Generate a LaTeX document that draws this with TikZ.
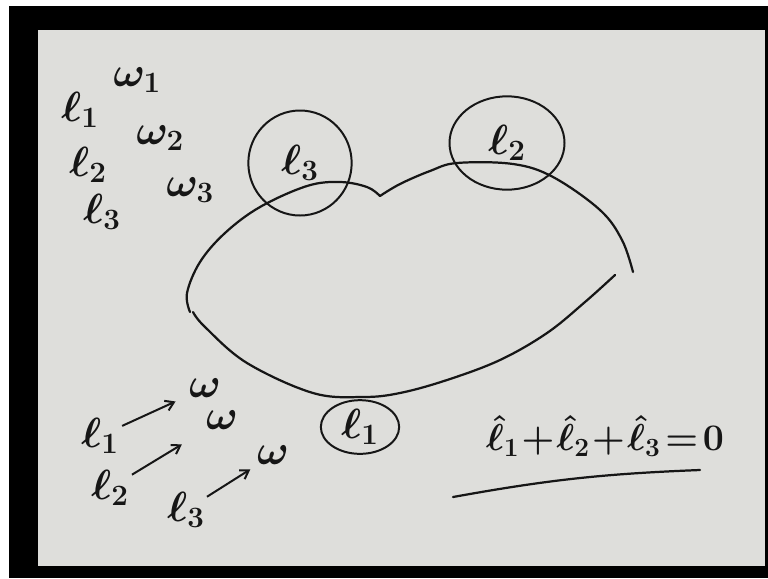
\RequirePackage{fix-cm}
\documentclass[tikz,border=0pt]{standalone}
\usepackage{amsmath,amssymb}
\usepackage{xcolor}
\usepackage{tikz}
\usetikzlibrary{arrows.meta,shapes.geometric}
\definecolor{board}{RGB}{222,222,219}
\definecolor{ink}{RGB}{22,22,22}

\begin{document}
\begin{tikzpicture}[x=0.03cm,y=-0.03cm,>={Straight Barb[length=7pt,width=9pt]},
  hand/.style={font=\fontsize{36}{38}\selectfont\boldmath,text=ink,inner sep=1pt},
  ring/.style={ellipse,draw=ink,line width=1.7pt,inner sep=0pt},
  arr/.style={->,draw=ink,line width=1.7pt},
  stroke/.style={draw=ink,line width=1.9pt,line cap=round}]
  % frame and board
  \useasboundingbox (0,0) rectangle (768,578);
  \fill[black] (9,6) rectangle (768,578);
  \fill[board] (38,30) rectangle (765,566);
  % the closed curve
  \draw[stroke] plot[smooth,tension=0.6] coordinates {(190,312) (187,293) (200,262) (225,233) (260,207) (307,186) (340,182) (367,187) (380,196)};
  \draw[stroke] plot[smooth,tension=0.6] coordinates {(380,196) (400,184) (430,171) (457,163) (513,164) (553,177) (600,210) (622,240) (633,272)};
  \draw[stroke] plot[smooth,tension=0.6] coordinates {(615,275) (585,302) (547,333) (500,360) (447,380) (400,393) (363,397) (313,393) (247,363) (205,327) (193,312)};
  % circled points
  \node[ring,minimum width=3.1cm,minimum height=3.15cm,hand] (cthree) at (300,163) {$\ell_3$};
  \node[ring,minimum width=3.45cm,minimum height=2.8cm,hand] (ctwo) at (507,143) {$\ell_2$};
  \node[ring,minimum width=2.35cm,minimum height=1.6cm,hand] (cone) at (360,427) {$\ell_1$};
  % list top left
  \node[hand] (la) at (80,110) {$\ell_1$};
  \node[hand] (wa) at (137,80) {$\omega_1$};
  \node[hand] (wb) at (160,138) {$\omega_2$};
  \node[hand] (lb) at (88,165) {$\ell_2$};
  \node[hand] (wc) at (190,190) {$\omega_3$};
  \node[hand] (lc) at (102,212) {$\ell_3$};
  % maps bottom left
  \node[hand] (pa) at (100,436) {$\ell_1$};
  \node[hand] (qa) at (205,388) {$\omega$};
  \node[hand] (pb) at (110,488) {$\ell_2$};
  \node[hand] (qb) at (222,420) {$\omega$};
  \node[hand] (pc) at (186,510) {$\ell_3$};
  \node[hand] (qc) at (273,455) {$\omega$};
  \draw[arr,shorten <=2pt,shorten >=0.4cm] (pa) -- (qa);
  \draw[arr,shorten <=2pt,shorten >=0.8cm] (pb) -- (qb);
  \draw[arr,shorten <=1pt,shorten >=0.2cm] (pc) -- (qc);
  % the sum
  \node[hand,font=\fontsize{32}{34}\selectfont\boldmath] (sum) at (605,436) {$\hat\ell_1\!+\!\hat\ell_2\!+\!\hat\ell_3\!=\!0$};
  \coordinate (ua) at (453,497);
  \coordinate (ub) at (700,470);
  \draw[stroke] (ua) to[bend left=4] (ub);
\end{tikzpicture}
\end{document}
